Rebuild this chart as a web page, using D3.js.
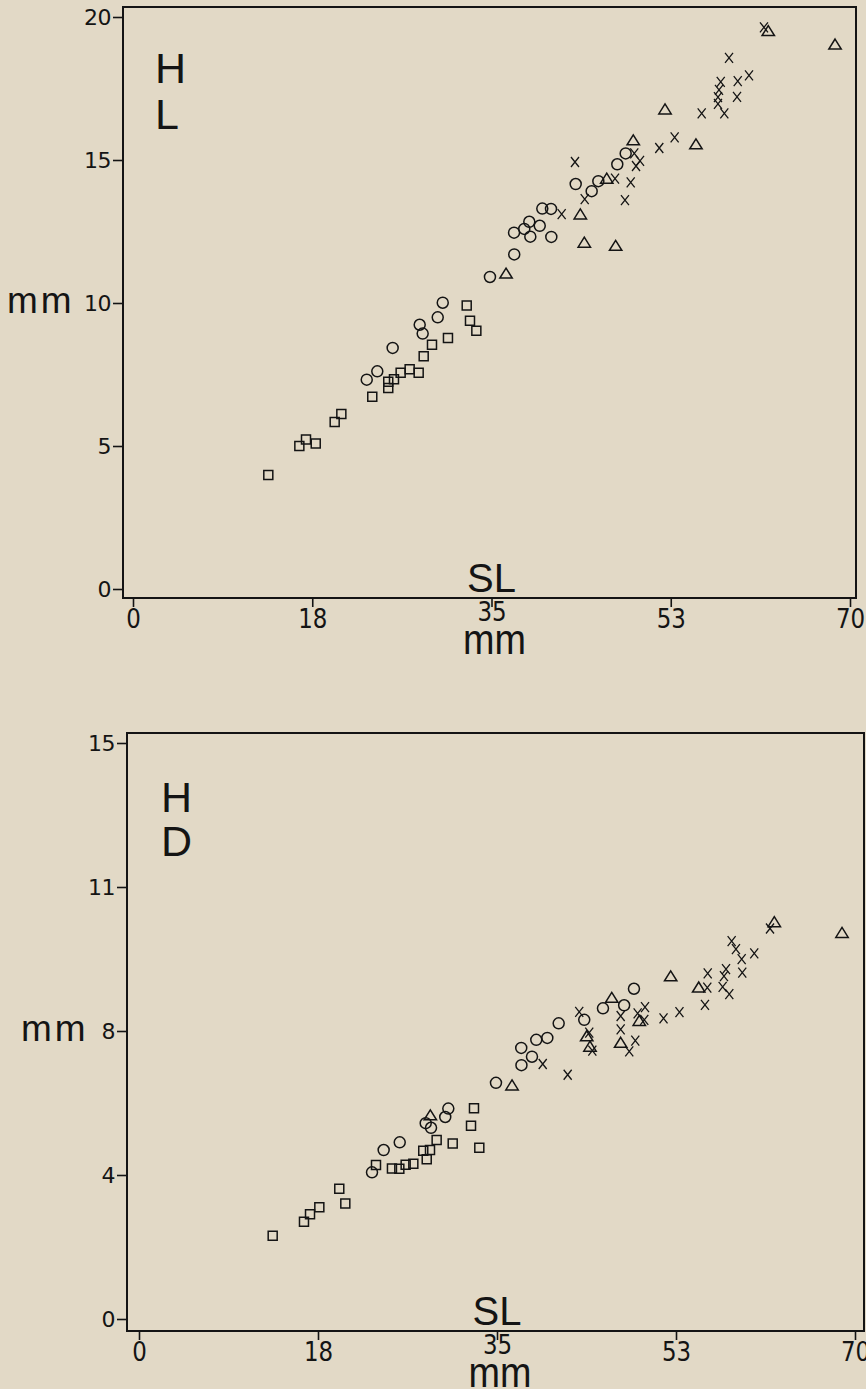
<!DOCTYPE html>
<html><head><meta charset="utf-8">
<script src="https://cdn.jsdelivr.net/npm/d3@7"></script>
<style>
html,body{margin:0;padding:0;background:#e2d9c6;}
svg{display:block;}
text{font-family:"Liberation Sans",Arial,Helvetica,sans-serif;fill:#141414;}
.num{font-family:"DejaVu Sans","Liberation Sans",Arial,sans-serif;}
</style>
</head><body>
<svg id="c" width="866" height="1389"></svg>
<script>
// ---------- DATA (SL mm, measurement mm) ----------
const xTickValues = [0, 17.5, 35, 52.5, 70];
const xTickLabels = ["0", "18", "35", "53", "70"];
const hlTickValues = [0, 5, 10, 15, 20];
const hlTickLabels = ["0", "5", "10", "15", "20"];
const hdTickValues = [0, 3.75, 7.5, 11.25, 15];
const hdTickLabels = ["0", "4", "8", "11", "15"];

// Head length vs SL
const hlSquares = [[13.21,3.99],[16.24,5.00],[16.89,5.23],[17.84,5.09],[19.69,5.84],[20.34,6.12],[23.36,6.72],[24.92,7.03],[24.92,7.25],[25.48,7.33],[26.13,7.56],[27.01,7.68],[27.89,7.56],[28.38,8.14],[29.19,8.54],[30.75,8.78],[32.58,9.91],[32.90,9.38],[33.52,9.03]];
const hlCircles = [[22.82,7.32],[23.85,7.61],[25.35,8.43],[27.99,9.24],[28.28,8.93],[29.75,9.50],[30.24,10.01],[34.85,10.91],[37.22,11.70],[37.20,12.46],[38.20,12.59],[38.69,12.84],[39.71,12.70],[38.79,12.32],[40.84,12.31],[39.96,13.30],[40.81,13.29],[43.22,14.16],[44.78,13.91],[45.43,14.26],[47.28,14.85],[48.10,15.23]];
const hlTriangles = [[36.42,11.01],[43.67,13.08],[44.06,12.09],[47.12,11.98],[46.25,14.33],[48.84,15.67],[51.94,16.75],[54.96,15.53],[62.02,19.49],[68.54,19.02]];
const hlCrosses = [[41.85,13.11],[43.15,14.93],[44.10,13.63],[47.06,14.35],[48.03,13.60],[48.59,14.22],[49.11,14.79],[49.50,14.97],[48.94,15.23],[51.38,15.42],[52.88,15.79],[55.52,16.63],[57.73,16.63],[57.11,16.96],[57.11,17.20],[57.21,17.45],[57.38,17.73],[58.97,17.21],[59.04,17.76],[60.14,17.96],[58.19,18.57],[61.60,19.64]];

// Head depth vs SL
const hdSquares = [[13.07,2.17],[16.13,2.53],[16.72,2.73],[17.63,2.91],[19.58,3.39],[20.17,3.01],[23.17,4.01],[24.73,3.92],[25.45,3.91],[26.07,4.02],[26.82,4.04],[27.79,4.38],[28.45,4.40],[28.13,4.16],[29.10,4.66],[30.67,4.57],[32.75,5.49],[32.46,5.03],[33.27,4.46]];
const hdCircles = [[22.78,3.82],[23.92,4.40],[25.49,4.60],[28.03,5.10],[28.55,4.98],[29.94,5.26],[30.24,5.48],[34.90,6.15],[37.39,6.61],[37.37,7.06],[38.42,6.83],[38.84,7.27],[39.92,7.32],[41.03,7.70],[43.53,7.79],[45.36,8.09],[47.43,8.17],[48.39,8.60]];
const hdTriangles = [[28.48,5.29],[36.47,6.07],[43.77,7.35],[44.09,7.08],[46.22,8.35],[47.09,7.18],[48.91,7.75],[51.98,8.91],[54.72,8.62],[62.11,10.32],[68.73,10.04]];
const hdCrosses = [[39.47,6.64],[41.91,6.36],[43.04,8.00],[44.02,7.46],[44.32,6.99],[47.09,7.89],[47.09,7.54],[47.93,6.97],[48.52,7.25],[48.75,7.96],[49.47,8.12],[49.40,7.79],[51.28,7.83],[52.84,7.99],[55.33,8.18],[55.56,8.63],[55.60,9.00],[57.06,8.65],[57.71,8.46],[57.19,8.93],[57.39,9.11],[58.98,9.02],[58.92,9.37],[58.36,9.63],[57.94,9.84],[60.15,9.52],[61.69,10.17]];

// ---------- DRAW ----------
const svg = d3.select("#c");
const INK = "#141414";

const shapes = {
  square: "M-4.5,-4.5H4.5V4.5H-4.5Z",
  circle: "M5.5,0A5.5,5.5 0 1,1 -5.5,0A5.5,5.5 0 1,1 5.5,0Z",
  triangle: "M0,-6L6.2,4H-6.2Z",
  cross: "M-4,-5L4,5M4,-5L-4,5"
};

function drawPanel(cfg) {
  const g = svg.append("g");
  const x = d3.scaleLinear().domain([0, 70]).range([cfg.x0, cfg.x70]);
  const y = d3.scaleLinear().domain([0, cfg.yMax]).range([cfg.y0, cfg.yTop]);

  g.append("rect")
    .attr("x", cfg.left).attr("y", cfg.top)
    .attr("width", cfg.right - cfg.left).attr("height", cfg.bottom - cfg.top)
    .attr("fill", "none").attr("stroke", INK).attr("stroke-width", 2);

  const ya = d3.axisLeft(y).tickValues(cfg.yTicks)
    .tickFormat((d, i) => cfg.yLabels[i]).tickSize(10).tickPadding(2);
  const yg = g.append("g").attr("transform", `translate(${cfg.left},0)`).call(ya);
  yg.attr("font-size", null).attr("font-family", null);
  yg.select(".domain").remove();
  yg.selectAll(".tick line").attr("stroke", INK).attr("stroke-width", 1.6);
  yg.selectAll(".tick text").attr("class", "num").attr("fill", INK)
    .style("font-size", "22px").attr("dy", "0.36em").style("letter-spacing", "-0.5px");

  const xa = d3.axisBottom(x).tickValues(xTickValues)
    .tickFormat((d, i) => xTickLabels[i]).tickSize(9).tickPadding(2);
  const xg = g.append("g").attr("transform", `translate(0,${cfg.bottom})`).call(xa);
  xg.attr("font-size", null).attr("font-family", null);
  xg.select(".domain").remove();
  xg.selectAll(".tick line").attr("stroke", INK).attr("stroke-width", 1.6);
  xg.selectAll(".tick text").attr("class", "num").attr("fill", INK).style("font-size", "27px")
    .attr("dy", null)
    .attr("y", d => d === 35 ? 23 : 30)
    .attr("transform", "scale(0.85,1)");

  // labels
  g.append("text").attr("x", cfg.lab1x).attr("y", cfg.lab1y).style("font-size", "43px").text(cfg.lab1);
  g.append("text").attr("x", cfg.lab1x).attr("y", cfg.lab2y).style("font-size", "43px").text(cfg.lab2);
  g.append("text").attr("x", cfg.mmx).attr("y", cfg.mmy).style("font-size", "37px").style("letter-spacing", "3px").text("mm");
  g.append("text").attr("x", x(35)).attr("y", cfg.bottom - 6).attr("text-anchor", "middle").style("font-size", "40px").text("SL");
  g.append("text")
    .attr("transform", `translate(${x(35) + 3},${cfg.bottom + 56}) scale(0.9,1)`)
    .attr("text-anchor", "middle").style("font-size", "42px").text("mm");

  const series = [
    [cfg.squares, "square"], [cfg.circles, "circle"],
    [cfg.triangles, "triangle"], [cfg.crosses, "cross"]
  ];
  series.forEach(([data, shp]) => {
    g.append("g").selectAll("path").data(data).join("path")
      .attr("transform", d => `translate(${x(d[0])},${y(d[1])})`)
      .attr("d", shapes[shp])
      .attr("fill", "none").attr("stroke", INK)
      .attr("stroke-width", shp === "cross" ? 1.3 : 1.5);
  });
}

drawPanel({
  left: 123, right: 856, top: 7, bottom: 598,
  x0: 133, x70: 850, y0: 589, yTop: 17, yMax: 20,
  yTicks: hlTickValues, yLabels: hlTickLabels,
  lab1: "H", lab2: "L", lab1x: 155, lab1y: 83, lab2y: 129,
  mmx: 7, mmy: 313,
  squares: hlSquares, circles: hlCircles, triangles: hlTriangles, crosses: hlCrosses
});

drawPanel({
  left: 127, right: 864, top: 733, bottom: 1331,
  x0: 139, x70: 855, y0: 1319, yTop: 743, yMax: 15,
  yTicks: hdTickValues, yLabels: hdTickLabels,
  lab1: "H", lab2: "D", lab1x: 161, lab1y: 812, lab2y: 856,
  mmx: 21, mmy: 1041,
  squares: hdSquares, circles: hdCircles, triangles: hdTriangles, crosses: hdCrosses
});
</script>
</body></html>
